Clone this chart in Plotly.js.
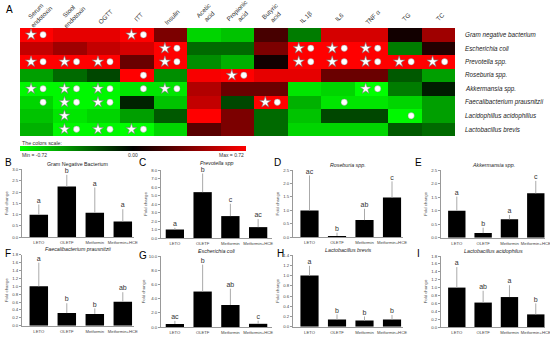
<!DOCTYPE html>
<html><head><meta charset="utf-8">
<script src="https://cdn.plot.ly/plotly-3.0.1.min.js"></script>
<style>html,body{margin:0;padding:0;background:#fff}#chart{width:550px;height:337px}</style>
</head><body><div id="chart"></div>
<script>
// ---------- heatmap data ----------
const heatCols = ['Serum<br>endotoxin','Stool<br>endotoxin','OGTT','ITT','Insulin','Acetic<br>acid','Propionic<br>acid','Butyric<br>acid','IL 1β','IL6','TNF α','TG','TC'];
const heatRows = ['Gram negative bacterium','Escherichia coli','Prevotella spp.','Roseburia spp.','Akkermansia spp.','Faecalibacterium prausnitzii','Lacidophillus acidophillus','Lactobacillus brevis'];
const heatZ = [
  [0.72, 0.65, 0.65, 0.72, 0.35, -0.60, -0.55, 0.20, -0.35, 0.60, 0.60, 0.05, 0.45],
  [0.55, 0.45, 0.55, 0.60, 0.72, -0.30, -0.30, 0.35, 0.72, 0.72, 0.72, -0.35, 0.10],
  [0.72, 0.72, 0.72, 0.30, 0.72, -0.40, -0.50, 0.05, 0.72, 0.72, 0.72, 0.72, 0.72],
  [-0.45, -0.30, -0.20, 0.72, -0.40, 0.70, 0.72, 0.65, 0.65, 0.30, 0.30, -0.25, -0.45],
  [-0.70, -0.70, -0.70, -0.65, -0.65, 0.50, 0.30, 0.30, -0.65, -0.60, -0.72, -0.35, -0.08],
  [-0.60, -0.70, -0.70, -0.10, -0.55, 0.55, -0.20, 0.72, -0.50, -0.65, -0.65, -0.60, -0.45],
  [-0.55, -0.65, -0.60, -0.45, -0.25, 0.72, 0.35, -0.30, -0.55, -0.20, -0.20, -0.70, -0.45],
  [-0.50, -0.70, -0.70, -0.72, -0.60, 0.25, 0.35, -0.30, -0.60, -0.60, -0.60, -0.25, -0.30]
];
// significance marks per cell: '*' star, 'o' circle
const heatSig = [
  ['*o','','','*o','','','','','','','','',''],
  ['','','','','*o','','','','*o','*o','*o','',''],
  ['*o','*o','*o','','*o','','','','*o','*o','*o','*o','*o'],
  ['','','','o','','','*o','','','','','',''],
  ['*o','*o','*o','o','*o','','','','','','*o','',''],
  ['o','*o','*o','','','','','*o','','o','','',''],
  ['','*','','','','','','','','','','o',''],
  ['','*o','*o','*o','','','','','','','','','']
];
const scaleMin = -0.72, scaleMax = 0.72;

// ---------- bar chart data ----------
const groups = ['LETO','OLETF','Metformin','Metformin+HCE'];
const gramNegMean = [1.00, 2.24, 1.08, 0.70], gramNegErr = [0.45, 0.52, 1.12, 0.54], gramNegLetters = ['a','b','a','a'];
const prevotellaMean = [1.00, 5.40, 2.58, 1.28], prevotellaErr = [0.20, 2.20, 1.45, 0.95], prevotellaLetters = ['a','b','c','ac'];
const roseburiaMean = [1.00, 0.05, 0.64, 1.48], roseburiaErr = [1.30, 0.12, 0.42, 0.60], roseburiaLetters = ['ac','b','ab','c'];
const akkermansiaMean = [1.00, 0.17, 0.68, 1.64], akkermansiaErr = [0.52, 0.20, 0.16, 0.46], akkermansiaLetters = ['a','b','a','c'];
const faecaliMean = [1.00, 0.32, 0.30, 0.61], faecaliErr = [0.60, 0.25, 0.14, 0.24], faecaliLetters = ['a','b','b','ab'];
const ecoliMean = [0.42, 5.00, 3.10, 0.45], ecoliErr = [0.45, 3.80, 2.30, 0.45], ecoliLetters = ['ac','b','ab','c'];
const brevisMean = [1.00, 0.14, 0.12, 0.14], brevisErr = [0.19, 0.10, 0.08, 0.09], brevisLetters = ['a','b','b','b'];
const acidoMean = [1.00, 0.62, 0.76, 0.32], acidoErr = [0.52, 0.30, 0.30, 0.28], acidoLetters = ['a','ab','a','b'];

// ---------- layout helpers ----------
const W = 550, H = 337;
const fx = p => p / W, fy = p => 1 - p / H;
const FONT = 'Arial, "Liberation Sans", sans-serif';
const data = [];
const annotations = [];
const layout = {
  width: W, height: H, margin: {l:0, r:0, t:0, b:0}, showlegend: false,
  paper_bgcolor: '#fff', plot_bgcolor: 'rgba(0,0,0,0)', font: {family: FONT, color: '#222'},
  annotations: annotations
};

// heatmap
const hm = {x0: 20, x1: 455, y0: 28, y1: 136};
data.push({
  type: 'heatmap', z: heatZ,
  x: heatCols.map((c, i) => i), y: heatRows.map((r, i) => i),
  zmin: scaleMin, zmax: scaleMax,
  colorscale: [[0, '#00ff00'], [0.5, '#000000'], [1, '#ff0000']],
  hoverinfo: 'skip', xaxis: 'x', yaxis: 'y',
  colorbar: {
    orientation: 'h', x: fx(20), xanchor: 'left', y: fy(146), yanchor: 'top',
    len: 226 / W, lenmode: 'fraction', thickness: 5, thicknessmode: 'pixels',
    xpad: 0, ypad: 0, outlinewidth: 0, showticklabels: false, ticks: ''
  }
});
layout.xaxis = {domain: [fx(hm.x0), fx(hm.x1)], range: [-0.5, heatCols.length - 0.5], showticklabels: false, showgrid: false, zeroline: false, ticks: '', fixedrange: true};
layout.yaxis = {domain: [fy(hm.y1), fy(hm.y0)], range: [heatRows.length - 0.5, -0.5], showticklabels: false, showgrid: false, zeroline: false, ticks: '', fixedrange: true};

const starX = [], starY = [], circX = [], circY = [];
heatSig.forEach((row, r) => row.forEach((s, c) => {
  if (s.includes('*')) { starX.push(c - 0.17); starY.push(r); }
  if (s.includes('o')) { circX.push(c + 0.19); circY.push(r); }
}));
data.push({type: 'scatter', mode: 'markers', x: starX, y: starY, xaxis: 'x', yaxis: 'y', hoverinfo: 'skip',
  marker: {symbol: 'star', size: 8.5, color: '#fff', line: {color: '#777', width: 0.6}}});
data.push({type: 'scatter', mode: 'markers', x: circX, y: circY, xaxis: 'x', yaxis: 'y', hoverinfo: 'skip',
  marker: {symbol: 'circle', size: 6.3, color: '#fff', line: {color: '#888', width: 0.4}}});

heatCols.forEach((c, i) => annotations.push({
  text: c, x: i, xref: 'x', y: fy(c.includes('<br>') ? 14 : 17), yref: 'paper', xshift: 2,
  textangle: -45, showarrow: false, font: {size: 6.3, color: '#333'}, xanchor: 'center', yanchor: 'middle'
}));
heatRows.forEach((r, i) => annotations.push({
  text: '<i>' + r + '</i>', x: fx(463), xref: 'paper', y: i, yref: 'y', xanchor: 'left', yanchor: 'middle',
  showarrow: false, font: {size: 6.3, color: '#222'}
}));
annotations.push({text: 'A', x: fx(4), y: fy(9), xref: 'paper', yref: 'paper', xanchor: 'left', yanchor: 'middle', showarrow: false, font: {size: 10, color: '#000'}});
annotations.push({text: 'The colors scale:', x: fx(20), y: fy(142.5), xref: 'paper', yref: 'paper', xanchor: 'left', yanchor: 'middle', showarrow: false, font: {size: 5.3, color: '#333'}});
annotations.push({text: 'Min = ' + scaleMin.toFixed(2), x: fx(20), y: fy(155), xref: 'paper', yref: 'paper', xanchor: 'left', yanchor: 'middle', showarrow: false, font: {size: 5, color: '#333'}});
annotations.push({text: (0).toFixed(2), x: fx(133), y: fy(155), xref: 'paper', yref: 'paper', xanchor: 'center', yanchor: 'middle', showarrow: false, font: {size: 5, color: '#333'}});
annotations.push({text: 'Max = ' + scaleMax.toFixed(2), x: fx(246), y: fy(155), xref: 'paper', yref: 'paper', xanchor: 'right', yanchor: 'middle', showarrow: false, font: {size: 5, color: '#333'}});

// bar panels
const panels = [
  {tag:'B', title:'Gram Negative Bacterium', italic:false, mean:gramNegMean, err:gramNegErr, letters:gramNegLetters, ymax:3.0, dtick:0.5, box:[22,134,169.3,237.3], xr:[-0.6,3.4], tagPos:[3,163], tdy:5.5},
  {tag:'C', title:'Prevotella spp', italic:true, mean:prevotellaMean, err:prevotellaErr, letters:prevotellaLetters, ymax:8.0, dtick:1, box:[161,272,170,238], xr:[-0.5,3.5], tagPos:[137,163], tdy:7.5},
  {tag:'D', title:'Roseburia spp.', italic:true, mean:roseburiaMean, err:roseburiaErr, letters:roseburiaLetters, ymax:2.5, dtick:0.5, box:[293,403,170,237.3], xr:[-0.6,3.4], tagPos:[272,163], tdy:5.5},
  {tag:'E', title:'Akkermansia spp.', italic:true, mean:akkermansiaMean, err:akkermansiaErr, letters:akkermansiaLetters, ymax:2.5, dtick:0.5, box:[441,545,170,237.7], xr:[-0.6,3.35], tagPos:[413,163], tdy:5.5},
  {tag:'F', title:'Faecalibacterium prausnitzii', italic:true, mean:faecaliMean, err:faecaliErr, letters:faecaliLetters, ymax:1.8, dtick:0.2, box:[22,134,254.7,325.7], xr:[-0.6,3.4], tagPos:[3,253], tdy:5.5},
  {tag:'G', title:'Escherichia coli', italic:true, mean:ecoliMean, err:ecoliErr, letters:ecoliLetters, ymax:10.0, dtick:2, box:[161,272,256,327], xr:[-0.5,3.5], tagPos:[137,255], tdy:5.5},
  {tag:'H', title:'Lactobacillus brevis', italic:true, mean:brevisMean, err:brevisErr, letters:brevisLetters, ymax:1.4, dtick:0.2, box:[293,403,255,326.7], xr:[-0.6,3.4], tagPos:[275,253], tdy:5.5},
  {tag:'I', title:'Lactobacillus acidophilus', italic:true, mean:acidoMean, err:acidoErr, letters:acidoLetters, ymax:1.8, dtick:0.2, box:[441,545,256,327], xr:[-0.6,3.35], tagPos:[415,253], tdy:5.5}
];

panels.forEach((p, k) => {
  const n = k + 2;
  const [x0, x1, y0, y1] = p.box;
  const xa = 'x' + n, ya = 'y' + n;
  layout['xaxis' + n] = {
    domain: [fx(x0), fx(x1)], anchor: ya, type: 'category', range: p.xr, tickangle: 0,
    showline: true, linecolor: '#999', linewidth: 1, ticks: '', showgrid: false, zeroline: false,
    tickfont: {size: 4.2, color: '#444'}, ticklabelstandoff: 1, fixedrange: true
  };
  layout['yaxis' + n] = {
    domain: [fy(y1), fy(y0)], anchor: xa, range: [0, p.ymax * 1.001], dtick: p.dtick, tick0: 0, tickformat: '.1f',
    showline: true, linecolor: '#999', linewidth: 1, ticks: 'outside', ticklen: 2, tickcolor: '#999',
    showgrid: false, zeroline: false, tickfont: {size: 4.3, color: '#444'}, fixedrange: true,
    title: {text: 'Fold change', font: {size: 4.3, color: '#444'}, standoff: 3}
  };
  data.push({
    type: 'bar', x: groups, y: p.mean, xaxis: xa, yaxis: ya, width: 0.66, hoverinfo: 'skip',
    marker: {color: '#000', line: {width: 0}},
    error_y: {type: 'data', symmetric: false, array: p.err, arrayminus: p.err.map(() => 0), color: '#aaa', thickness: 1, width: 0}
  });
  data.push({
    type: 'scatter', mode: 'text', x: groups, y: p.mean.map((m, i) => m + p.err[i]), text: p.letters,
    textposition: 'top center', textfont: {size: 7, color: '#333'}, xaxis: xa, yaxis: ya, hoverinfo: 'skip', cliponaxis: false
  });
  annotations.push({
    text: p.italic ? '<i>' + p.title + '</i>' : p.title, x: fx((x0 + x1) / 2), y: fy(y0 - p.tdy),
    xref: 'paper', yref: 'paper', xanchor: 'center', yanchor: 'middle', showarrow: false, font: {size: 5.3, color: '#222'}
  });
  annotations.push({
    text: p.tag, x: fx(p.tagPos[0]), y: fy(p.tagPos[1]), xref: 'paper', yref: 'paper', xanchor: 'left', yanchor: 'middle',
    showarrow: false, font: {size: 10, color: '#000'}
  });
});

Plotly.newPlot('chart', data, layout, {staticPlot: true, displayModeBar: false});
</script></body></html>
